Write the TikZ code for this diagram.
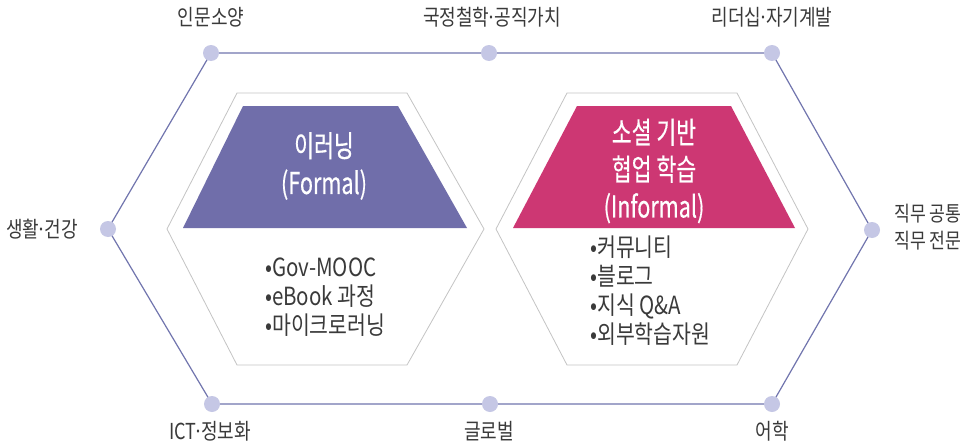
\documentclass[tikz,border=0pt]{standalone}
\usepackage{fontspec}
\setmainfont{Noto Sans CJK KR}[FakeStretch=0.82]
\newfontfamily\titlefont{Noto Sans CJK KR}[FakeStretch=0.72,FakeBold=0.4]
\newcommand{\middot}{\kern-0.12em·\kern-0.12em}
\definecolor{outerline}{HTML}{7175AE}
\definecolor{dotfill}{HTML}{C5C7E5}
\definecolor{formalc}{HTML}{706EAA}
\definecolor{informalc}{HTML}{CD3773}
\definecolor{hexline}{HTML}{C4C4C4}
\definecolor{labeltext}{HTML}{3A3A3A}
\begin{document}
\begin{tikzpicture}[x=1pt,y=-1pt,
  dotnode/.style={circle,fill=dotfill,minimum size=16pt,inner sep=0pt},
  outerlabel/.style={text=labeltext,font=\fontsize{22}{27}\selectfont,inner sep=0pt,align=center},
  titletext/.style={text=white,font=\titlefont\fontsize{30}{37}\selectfont,inner sep=0pt,align=center},
  bullettext/.style={text=labeltext,font=\fontsize{25}{29}\selectfont,inner sep=0pt,align=left,anchor=west},
  innerhex/.style={draw=hexline,line width=0.8pt,fill=white}]
\useasboundingbox (0,0) rectangle (967,447);
\fill[white] (0,0) rectangle (967,447);
% outer hexagon points
\coordinate (ptl) at (211,53);
\coordinate (ptm) at (489,53);
\coordinate (ptr) at (772,53);
\coordinate (pr) at (872,230);
\coordinate (pbr) at (772,404);
\coordinate (pbm) at (490,404);
\coordinate (pbl) at (212,404);
\coordinate (pl) at (108,229);
\draw[outerline,line width=1.2pt,line join=round] (ptl) -- (ptm) -- (ptr) -- (pr) -- (pbr) -- (pbm) -- (pbl) -- (pl) -- cycle;
\foreach \p in {ptl,ptm,ptr,pr,pbr,pbm,pbl,pl}{\node[dotnode] (d\p) at (\p) {};}
% outer labels
\node[outerlabel] (l1) at (211,17) {인문소양};
\node[outerlabel] (l2) at (492,17) {국정철학\middot{}공직가치};
\node[outerlabel] (l3) at (772,17) {리더십\middot{}자기계발};
\node[outerlabel] (l4) at (210,431) {ICT\middot{}정보화};
\node[outerlabel] (l5) at (489,431) {글로벌};
\node[outerlabel] (l6) at (772,431) {어학};
\node[outerlabel] (l7) at (42,229) {생활\middot{}건강};
\node[outerlabel,font=\fontsize{21}{27}\selectfont] (l8) at (928,227) {직무 공통\\직무 전문};
% inner hexagons
\draw[innerhex] (237,93) -- (407,93) -- (484,229) -- (407,365) -- (237,365) -- (167,229) -- cycle;
\draw[innerhex] (567,93) -- (737,93) -- (808,229) -- (737,365) -- (567,365) -- (496,229) -- cycle;
% trapezoids
\fill[formalc] (243,106) -- (398,106) -- (467,228) -- (183,228) -- cycle;
\fill[informalc] (577,106) -- (731,106) -- (795,228) -- (513,228) -- cycle;
% titles
\node[titletext] (t1) at (324,166) {이러닝\\(Formal)};
\node[titletext] (t2) at (654,171) {소셜 기반\\협업 학습\\(Informal)};
% bullet lists
\node[bullettext] (b1) at (265,297) {•Gov-MOOC\\•eBook 과정\\•마이크로러닝};
\node[bullettext] (b2) at (590,291) {•커뮤니티\\•블로그\\•지식 Q\&A\\•외부학습자원};
\end{tikzpicture}
\end{document}
